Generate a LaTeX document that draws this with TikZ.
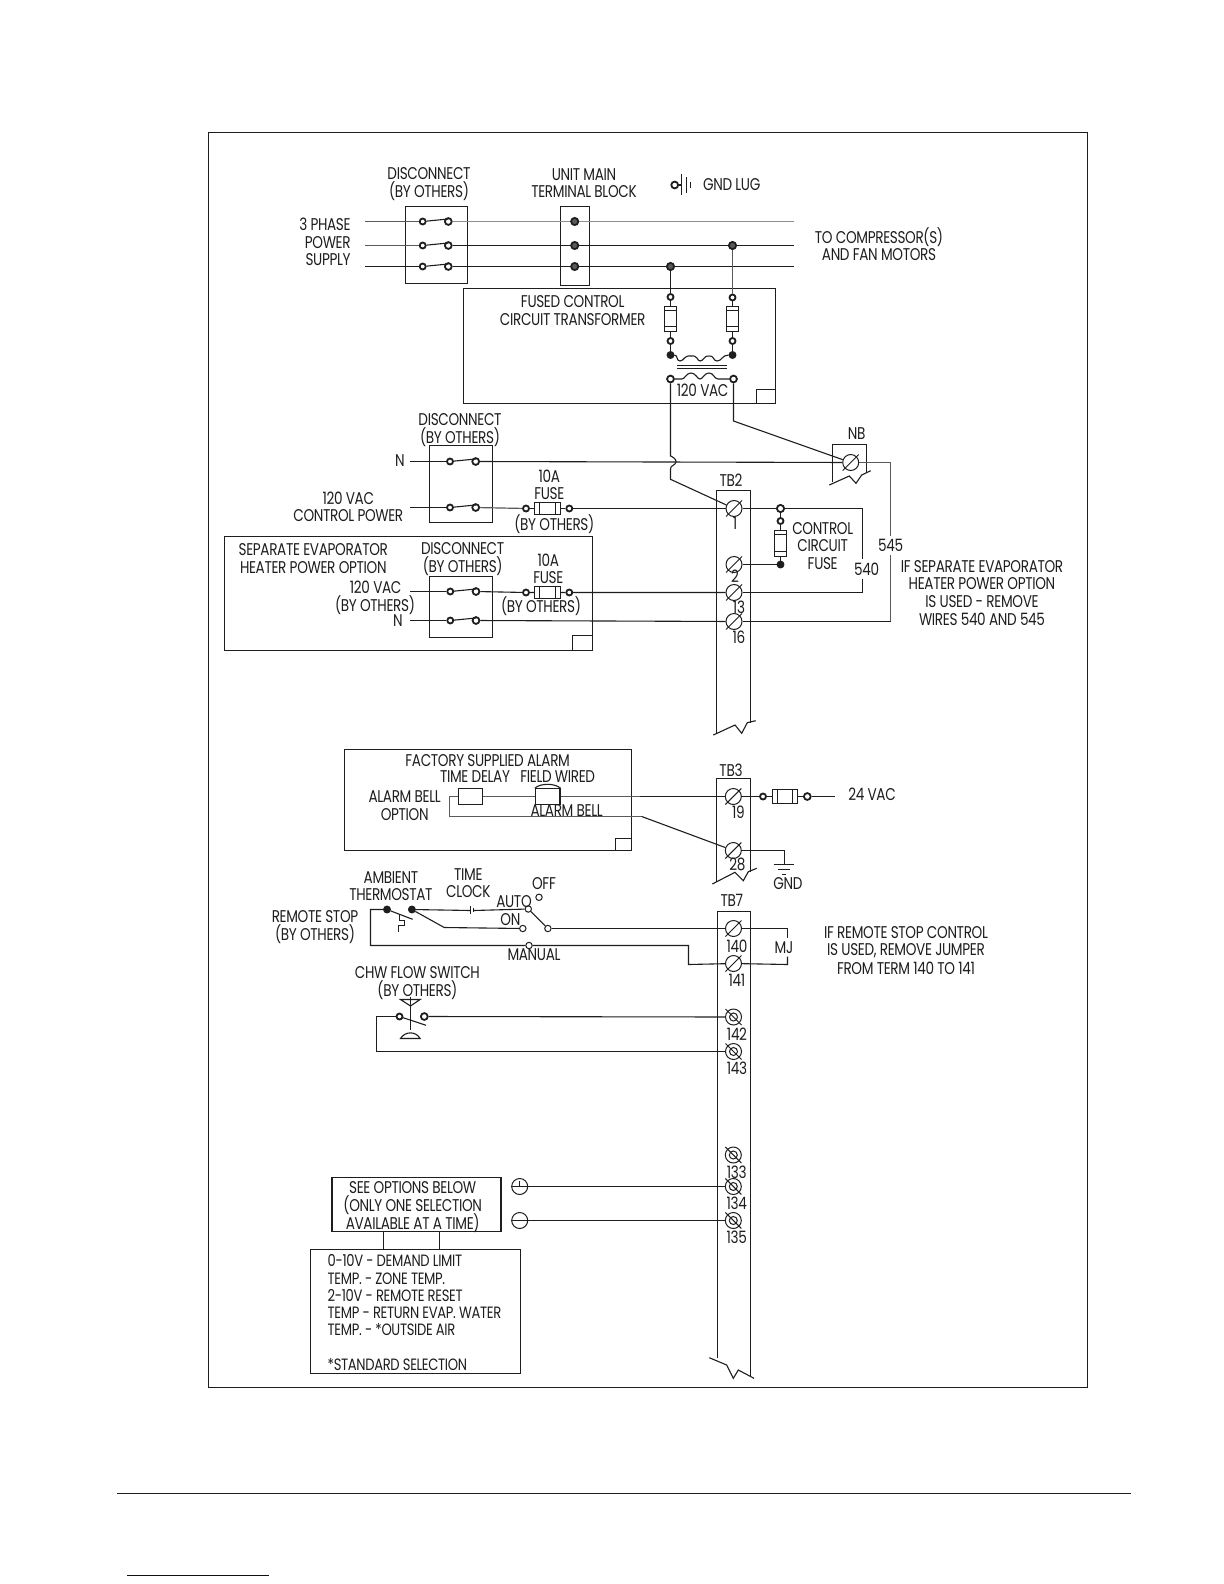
\documentclass[tikz,border=0pt]{standalone}
\usepackage{fontspec}
\setmainfont[FakeStretch=0.8,LetterSpace=-2]{Poppins}
\usetikzlibrary{calc}
\definecolor{ink}{HTML}{1E1E1E}
\definecolor{wiregray}{HTML}{5A5A5A}
\definecolor{navyline}{HTML}{00008B}
\tikzset{
  wire/.style={draw=ink,line width=0.55pt},
  gwire/.style={draw=wiregray,line width=0.6pt},
  boxl/.style={draw=ink,line width=0.55pt},
  dot/.style={circle,draw=ink,fill=wiregray,line width=0.9pt,inner sep=0pt,minimum size=3pt},
  ring/.style={circle,draw=ink,fill=white,line width=0.5pt,inner sep=0pt,minimum size=3.2pt},
  scr/.style={circle,draw=ink,line width=0.5pt,fill=white,inner sep=0pt,minimum size=8pt},
  lbl/.style={font=\fontsize{8.5}{8.5}\selectfont,text=ink,inner sep=0pt},
  lstl/.style={font=\fontsize{8.2}{8.2}\selectfont,text=ink,inner sep=0pt},
  blank/.style={inner sep=0pt,minimum size=0pt}
}
\newcommand{\scrA}[3]{\node[scr] (#1) at (#2,#3) {};
  \draw[wire,line width=0.5pt] ($(#1)+(-8,8)$) -- ($(#1)+(8,-8)$);}
\newcommand{\scrB}[3]{\node[scr] (#1) at (#2,#3) {};
  \draw[wire,line width=0.5pt] ($(#1)+(-8,-8)$) -- ($(#1)+(8,8)$);
  \draw[wire,line width=0.5pt] (#1) circle (4);}
\newcommand{\fuseH}[5]{\draw[boxl,fill=white] (#2,#4) rectangle (#3,#5);
  \draw[wire] (#2+5,#4) -- (#2+5,#5) (#3-5,#4) -- (#3-5,#5);
  \node[blank] (#1l) at (#2,{(#4+#5)/2}) {}; \node[blank] (#1r) at (#3,{(#4+#5)/2}) {};}
\newcommand{\fuseV}[5]{\draw[boxl,fill=white] (#2,#4) rectangle (#3,#5);
  \draw[wire] (#2,#4+4) -- (#3,#4+4) (#2,#5-5) -- (#3,#5-5);
  \node[blank] (#1t) at ({(#2+#3)/2},#4) {}; \node[blank] (#1b) at ({(#2+#3)/2},#5) {};}
\newcommand{\brk}[5]{\draw[wire] #1 -- #2 -- #3 -- #4 -- #5;}
\begin{document}
\begin{tikzpicture}[x=0.5pt,y=-0.5pt]
\useasboundingbox (0,0) rectangle (1224,1584);
\fill[white] (0,0) rectangle (1224,1584);
% outer frame
\node[blank] (frameA) at (208.5,132.5) {};
\node[blank] (frameB) at (1087.5,1387.5) {};
\draw[boxl] (frameA) rectangle (frameB);
\draw[ink,line width=0.7pt] (117,1493.3) -- (1131,1493.3);
\draw[navyline,line width=0.55pt] (127,1575.3) -- (269,1575.3);

% top boxes
\draw[boxl] (405.5,206.5) rectangle (467.5,283.5);
\draw[boxl] (560.5,206.5) rectangle (589.5,285.5);
\draw[boxl] (463.5,288.5) rectangle (775.5,403.5);
\draw[boxl] (756.5,389.5) rectangle (775.5,403.5);
% line starts
\coordinate (s1) at (365,221.5); \coordinate (s2) at (365,245.5); \coordinate (s3) at (365,266.5);
\coordinate (e1) at (794,221.5); \coordinate (e2) at (794,245.5); \coordinate (e3) at (794,266.5);
\foreach \n/\y in {a/221.5,b/245.5,c/266.5}{
  \node[dot,fill=white,minimum size=3pt] (d\n1) at (422.7,\y) {};
  \node[dot,fill=white,minimum size=3.4pt] (d\n2) at (448.3,\y) {};
  \node[dot,fill=wiregray,minimum size=3.6pt] (t\n) at (574.7,\y) {};
  \draw[wire] (d\n1) -- ($(d\n2)+(0,-2.5)$);
}
\node[dot,minimum size=3.6pt] (jc) at (670.5,266.5) {};
\node[dot,minimum size=3.6pt] (jb) at (732.5,245.5) {};
\draw[gwire] (s1) -- (da1);
\draw[gwire,line width=0.9pt,draw=ink!50] (da2) -- (ta) -- (e1);
\draw[gwire] (s2) -- (db1);
\draw[wire] (db2) -- (tb) -- (jb) -- (e2);
\draw[wire] (s3) -- (dc1);
\draw[wire] (dc2) -- (tc) -- (jc) -- (e3);
% gnd lug
\node[dot,fill=white,minimum size=3.4pt] (gl) at (674.7,185) {};
\coordinate (gl1) at (681.5,185);
\draw[wire] (gl) -- (gl1);
\draw[wire] (681.5,174) -- (681.5,195) (686.5,177) -- (686.5,193) (690.5,182) -- (690.5,188);
% transformer
\node[dot,fill=white] (f1a) at (670.5,297) {};
\node[dot,fill=white] (f2a) at (732.5,297.5) {};
\fuseV{fa}{664.5}{676.5}{306.5}{331.5}
\fuseV{fb}{726.5}{738.5}{306.5}{331.5}
\node[dot,fill=white] (f1b) at (670.5,341) {};
\node[dot,fill=white] (f2b) at (732.5,341) {};
\node[dot,fill=ink] (p1) at (670.5,355) {};
\node[dot,fill=ink] (p2) at (732.5,355) {};
\node[dot,fill=white,minimum size=3.4pt] (q1) at (670.5,379) {};
\node[dot,fill=white,minimum size=3.4pt] (q2) at (733.5,379) {};
\draw[wire] (jc) -- (f1a) -- (fat) (fab) -- (f1b) -- (p1);
\draw[gwire] (jb) -- (f2a);
\draw[wire] (f2a) -- (fbt) (fbb) -- (f2b) -- (p2);
\draw[wire] (p1) .. controls (678,355) and (676,361) .. (680,361)
 .. controls (684,361) and (684,355) .. (691,356)
 .. controls (698,355) and (697,361) .. (700,361)
 .. controls (704,361) and (704,355) .. (709,356)
 .. controls (714,355) and (713,361) .. (717,361)
 .. controls (722,361) and (722,355) .. (p2);
\draw[wire,line width=0.5pt] (677,365.5) -- (727,365.5) (677,368.5) -- (727,368.5);
\draw[wire] (q1) -- (682,379) .. controls (685,379) and (686,373) .. (691,373)
 .. controls (696,373) and (697,379) .. (700,379)
 .. controls (703,379) and (704,373) .. (709,373)
 .. controls (714,373) and (714,379) .. (718,379) -- (q2);
% NB and neutral
\draw[boxl] (832.5,482) -- (832.5,444.5) -- (866.5,444.5) -- (866.5,473);
\brk{(829.3,485)}{(849.3,476)}{(856,483.3)}{(861.7,475)}{(870.7,470.7)}
\scrA{nb}{850.7}{462.5}
% TB2
\draw[boxl] (716.5,733) -- (716.5,490.5) -- (750.5,490.5) -- (750.5,723);
\brk{(713.3,735)}{(735,725)}{(741.7,733.3)}{(747.3,722.7)}{(755.7,720.7)}
\scrA{t1}{734}{508.5}
\scrA{t2}{734}{564.5}
\scrA{t13}{734}{592.5}
\scrA{t16}{734}{621.5}
% transformer outs
\coordinate (o1) at (670.5,456);
\coordinate (o1b) at (670.5,479.3);
\coordinate (o2) at (733.5,421);
\draw[wire] (q1) -- (o1) .. controls (671,456) and (677,459) .. (676,462)
  .. controls (675,466) and (670.5,465) .. (670.5,469) -- (o1b) -- (t1);
\draw[wire] (q2) -- (o2) -- (nb);
% disc 2
\draw[boxl] (429.5,445.5) rectangle (492.5,522.5);
\coordinate (sN) at (410,461.5); \coordinate (sC) at (410,507.5);
\node[dot,fill=white] (n1) at (450,461.5) {};
\node[dot,fill=white,minimum size=3.4pt] (n2) at (475.7,461.5) {};
\node[dot,fill=white] (c1) at (450,507.5) {};
\node[dot,fill=white,minimum size=3.4pt] (c2) at (475.7,507.5) {};
\draw[wire] (n1) -- ($(n2)+(0,-2.5)$) (c1) -- ($(c2)+(0,-2.5)$);
\draw[wire] (sN) -- (n1) (sC) -- (c1);
\draw[wire] (n2) -- (nb);
\node[dot,fill=white] (fl) at (526,508.5) {};
\node[dot,fill=white] (fr) at (569.3,508.5) {};
\fuseH{fu}{534.5}{560.5}{502.5}{514.5}
\draw[gwire] (c2) -- (fl);
\draw[wire] (fl) -- (ful) (fur) -- (fr) -- (t1);
% sep box
\draw[boxl] (224.5,536.5) rectangle (592.5,650.5);
\draw[boxl] (572.5,635.5) rectangle (592.5,650.5);
\draw[boxl] (429.5,576.5) rectangle (492.5,637.5);
\coordinate (sH) at (410,591.5); \coordinate (sM) at (410,620.5);
\node[dot,fill=white] (h1) at (450.3,591.5) {};
\node[dot,fill=white,minimum size=3.4pt] (h2) at (476,591.5) {};
\node[dot,fill=white] (m1) at (450.3,620.5) {};
\node[dot,fill=white,minimum size=3.4pt] (m2) at (476,620.5) {};
\draw[wire] (h1) -- ($(h2)+(0,-2.5)$) (m1) -- ($(m2)+(0,-2.5)$);
\draw[wire] (sH) -- (h1) (sM) -- (m1);
\node[dot,fill=white] (gl2) at (526,592.5) {};
\node[dot,fill=white] (gr2) at (569.3,592.5) {};
\fuseH{gu}{534.5}{560.5}{586.5}{598.5}
\draw[wire] (h2) -- (gl2) -- (gul) (gur) -- (gr2) -- (t13);
\draw[wire] (m2) -- (t16);
% control fuse
\node[dot,fill=white,minimum size=3.6pt] (cf0) at (780.5,508.5) {};
\node[dot,fill=white] (cf1) at (780.5,521) {};
\fuseV{cf}{774.5}{786.5}{530.5}{556.5}
\node[dot,fill=ink] (cf2) at (780.5,564.5) {};
\draw[wire] (cf0) -- (cf1) -- (cft) (cfb) -- (cf2);
\draw[wire] (t2) -- (cf2);
\coordinate (w540a) at (862.5,508.5);
\coordinate (w540b) at (862.5,592.5);
\node[lbl] (l540) at (866.7,569) {540};
\draw[wire] (t1) -- (cf0) -- (w540a) -- ($(l540.north-|w540a)+(0,-3)$);
\draw[wire] ($(l540.south-|w540a)+(0,3)$) -- (w540b) -- (t13);
\coordinate (w545a) at (890.5,462.5);
\coordinate (w545b) at (890.5,621.5);
\node[lbl] (l545) at (890.7,545.3) {545};
\draw[gwire] (nb) -- (w545a) -- ($(l545.north-|w545a)+(0,-3)$);
\draw[gwire] ($(l545.south-|w545a)+(0,3)$) -- (w545b);
\draw[wire] (w545b) -- (t16);

% alarm
\draw[boxl] (344.5,749.5) rectangle (631.5,850.5);
\draw[boxl] (615.5,838.5) rectangle (631.5,850.5);
\node[draw=ink,line width=0.55pt,minimum width=12.2pt,minimum height=7.7pt,inner sep=0pt] (td) at (470.5,796.5) {};
\node[draw=ink,line width=0.55pt,minimum width=12.3pt,minimum height=7.7pt,inner sep=0pt] (bell) at (547.7,796.5) {};
\draw[wire] (bell.north west) .. controls (540,783) and (555,783) .. (bell.north east);
\draw[boxl] (716.5,882) -- (716.5,778.5) -- (750.5,778.5) -- (750.5,872);
\brk{(712.3,884)}{(735,872.3)}{(743.3,880.7)}{(748.3,871.7)}{(756.7,868.3)}
\scrA{t19}{733.3}{796.5}
\scrA{t28}{733.3}{850.5}
\draw[gwire] (td) -- (bell);
\draw[gwire] (bell) -- (640,796.5); \draw[wire] (640,796.5) -- (t19);
\coordinate (a1) at (449.5,796.5); \coordinate (a2) at (449.5,816.5); \coordinate (a3) at (641.7,816.5);
\draw[gwire] (td) -- (a1) -- (a2) -- (a3);
\draw[wire] (a3) -- (t28);
\node[dot,fill=white] (fa1) at (763,796.5) {};
\fuseH{ft}{772.5}{797.5}{789.5}{803.5}
\node[dot,fill=white,minimum size=3.4pt] (fa2) at (807.3,796.5) {};
\coordinate (fa3) at (835,796.5);
\draw[wire] (t19) -- (fa1) -- (ftl) (ftr) -- (fa2) -- (fa3);
\coordinate (g1) at (784.5,850.5); \coordinate (g2) at (784.5,864.5);
\draw[wire] (t28) -- (g1) -- (g2);
\draw[wire] (773.5,864.5) -- (794,864.5) (778,869.5) -- (789.5,869.5) (782,874.5) -- (786,874.5);

% TB7
\draw[boxl] (717.5,1358) -- (717.5,911.5) -- (750.5,911.5) -- (750.5,1376);
\brk{(709.3,1357.7)}{(726.7,1365)}{(733.3,1378.3)}{(738.3,1370)}{(754,1378.3)}
\scrA{t140}{733.5}{928.5}
\scrA{t141}{733.5}{963.5}
\scrB{t142}{733.5}{1017}
\scrB{t143}{733.5}{1051.5}
\scrB{t133}{733.3}{1155}
\scrB{t134}{733.3}{1186.5}
\scrB{t135}{733.3}{1220.5}
% thermostat line
\node[dot,fill=ink] (th1) at (387,909.5) {};
\node[dot,fill=ink] (th2) at (411.9,909.5) {};
\coordinate (th3) at (412.6,919.3);
\draw[wire] (th1) -- (th3);
\draw[wire,line width=0.5pt] (399.5,914.3) -- (399.5,920) -- (404,920) -- (404,925) -- (398.8,925) -- (398.8,931.7);
\coordinate (r1) at (370.5,909.5); \coordinate (r2) at (370.5,945.5);
\coordinate (r3) at (688.5,945.5); \coordinate (r4) at (688.5,964.5);
\node[ring] (man) at (529,945.5) {};
\draw[wire] (th1) -- (r1) -- (r2) -- (man) -- (r3) -- (r4) -- (t141);
\node[ring] (aut) at (528.3,909) {};
\node[ring] (onc) at (522.8,928.5) {};
\node[ring] (off) at (539,897.3) {};
\node[ring] (sw) at (547.9,928.5) {};
\coordinate (tc1) at (470.8,910.5);
\coordinate (tc2) at (473.5,910.5);
\coordinate (d1) at (444.2,927.5);
\draw[wire] (th2) -- (tc1) (tc2) -- (aut);
\draw[wire] (470.5,906) -- (470.5,914.3) (473.5,908.3) -- (473.5,912.3);
\draw[wire] (th2) -- (d1) -- (onc);
\draw[wire] (aut) -- (sw);
\draw[wire] (sw) -- (t140);
\coordinate (mj1) at (787.5,928.5); \coordinate (mj2) at (787.5,964.5);
\node[lbl] (lmj) at (784,947.3) {MJ};
\draw[wire] (t140) -- (mj1) -- ($(lmj.north-|mj1)+(0,-3)$);
\draw[wire] ($(lmj.south-|mj1)+(0,3)$) -- (mj2) -- (t141);
% flow switch
\node[dot,fill=white] (fs1) at (399.5,1016.5) {};
\node[dot,fill=white,minimum size=3.4pt] (fs2) at (424.3,1016.5) {};
\coordinate (fs3) at (426,1025.3);
\draw[wire] (fs1) -- (fs3);
\draw[wire] (410.5,996.7) -- (410.5,1030);
\draw[wire] (400.5,999.5) -- (420.1,999.5) -- (410.5,1006) -- cycle;
\draw[wire] (400.5,1038.5) -- (420.1,1038.5) .. controls (416,1031) and (405,1031) .. (400.5,1038.5) -- cycle;
\coordinate (fw1) at (376.5,1016.5); \coordinate (fw2) at (376.5,1051.5);
\draw[wire] (fs1) -- (fw1) -- (fw2) -- (t143);
\draw[wire] (fs2) -- (t142);
% options
\node[draw=ink,line width=0.55pt,minimum width=84.5pt,minimum height=27pt,inner sep=0pt] (opt) at (416.5,1204.5) {};
\node[draw=ink,line width=0.55pt,minimum width=105pt,minimum height=62pt,inner sep=0pt] (lst) at (415.5,1311.5) {};
\draw[wire] (383.5,1231.5) -- (383.5,1249.5) (439.5,1231.5) -- (439.5,1249.5);
\node[circle,draw=ink,line width=0.5pt,minimum size=8pt,inner sep=0pt] (plus) at (519.7,1186.5) {};
\node[circle,draw=ink,line width=0.5pt,minimum size=8pt,inner sep=0pt] (minus) at (519.7,1220.5) {};
\draw[wire,line width=0.5pt] (plus.west) -- (plus.east) (plus.center) -- (519.7,1181);
\draw[wire,line width=0.5pt] (minus.west) -- (minus.east);
\draw[wire] (plus) -- (t134);
\draw[wire] (minus) -- (t135);

% labels
\foreach \x/\y/\t in {
 429/174/DISCONNECT, 429/191/(BY OTHERS),
 584/174.3/UNIT MAIN, 584/191.7/TERMINAL BLOCK, 731.7/185/GND LUG,
 572.7/301.7/FUSED CONTROL, 572.7/319.3/CIRCUIT TRANSFORMER, 702.7/390.7/120 VAC,
 879/237.4/TO COMPRESSOR(S), 879/254.8/AND FAN MOTORS,
 460/420/DISCONNECT, 460/437.3/(BY OTHERS),
 348.3/498/120 VAC, 348.3/515.7/CONTROL POWER,
 549.3/476/10A, 549.3/493.3/FUSE, 554.3/524/(BY OTHERS),
 313.3/550/SEPARATE EVAPORATOR, 313.3/567.7/HEATER POWER OPTION,
 462.7/549/DISCONNECT, 462.7/566/(BY OTHERS),
 548.3/560.3/10A, 548.3/577.7/FUSE, 541/606.3/(BY OTHERS),
 375.7/587.7/120 VAC, 375/605/(BY OTHERS), 398/620.7/N, 400/461/N,
 856.7/433.3/NB, 731/480.5/TB2, 731/770/TB3, 731.8/900.7/TB7,
 735/523.3/1, 735/576.7/2, 739/607.3/13, 739/637.3/16,
 822.7/528.7/CONTROL, 822.7/546/CIRCUIT, 822.7/563.3/FUSE,
 982/566.7/IF SEPARATE EVAPORATOR, 982/584/HEATER POWER OPTION, 982/601.3/IS USED - REMOVE, 982/619/WIRES 540 AND 545,
 487.7/760.7/FACTORY SUPPLIED ALARM, 475/777/TIME DELAY, 557.7/776.3/FIELD WIRED,
 404.7/797/ALARM BELL, 404.7/814.3/OPTION, 566.7/811/ALARM BELL,
 738.3/812.7/19, 737.3/864.3/28, 872/794/24 VAC, 788/883.3/GND,
 390.9/878/AMBIENT, 390.9/895/THERMOSTAT, 468.3/875/TIME, 468.3/892/CLOCK,
 544/884/OFF, 514/901.7/AUTO, 510.4/919.3/ON, 315/917/REMOTE STOP, 315/934/(BY OTHERS),
 534/955/MANUAL, 417.4/972.3/CHW FLOW SWITCH, 417.4/990/(BY OTHERS),
 737/946.3/140, 737/980.3/141, 737/1034.3/142, 737/1068.3/143,
 906/932.8/IF REMOTE STOP CONTROL, 906/950.5/{IS USED, REMOVE JUMPER}, 906/968/FROM TERM 140 TO 141,
 736.7/1172/133, 736.7/1203.3/134, 736.7/1237.7/135,
 412.7/1187.7/SEE OPTIONS BELOW, 412.7/1205.3/(ONLY ONE SELECTION, 412.7/1222.7/AVAILABLE AT A TIME)
}{\node[lbl] at (\x,\y) {\t};}
\foreach \y/\t in {224.7/3 PHASE,242.3/POWER,259.3/SUPPLY}{\node[lbl,anchor=east] at (351,\y) {\t};}
\foreach \y/\t in {1260.7/0-10V - DEMAND LIMIT,1278.3/TEMP. - ZONE TEMP.,1295.3/2-10V - REMOTE RESET,1312.7/TEMP - RETURN EVAP. WATER,1330/TEMP. - *OUTSIDE AIR,1365/*STANDARD SELECTION}{\node[lstl,anchor=west] at (327.3,\y) {\t};}
\end{tikzpicture}
\end{document}
